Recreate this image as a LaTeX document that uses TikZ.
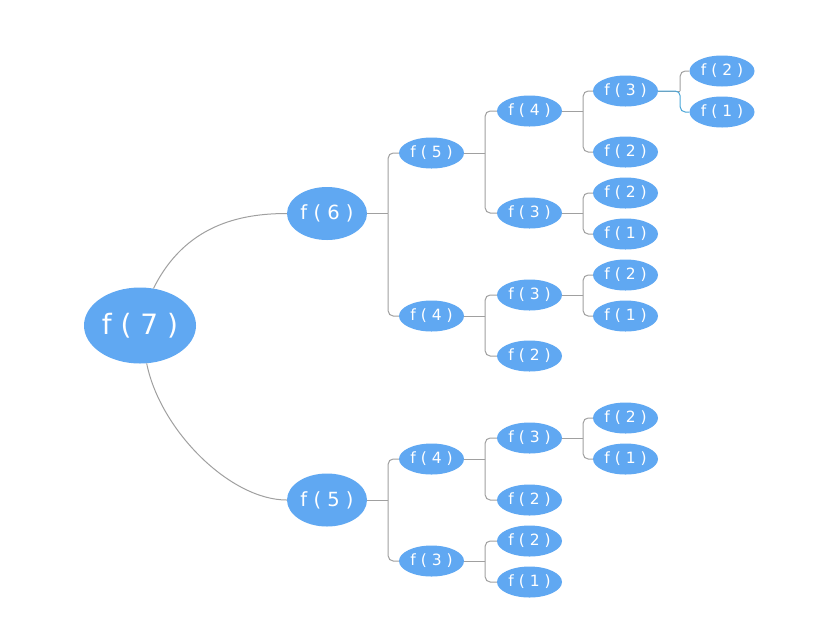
\documentclass[tikz,border=0pt]{standalone}
\usepackage{fontspec}
\setmainfont{DejaVu Sans}
\usetikzlibrary{shapes.geometric}
\definecolor{nodeblue}{RGB}{96,168,242}
\definecolor{lineg}{RGB}{160,160,160}
\definecolor{selblue}{RGB}{74,166,216}
\tikzset{
  bub/.style={ellipse,fill=nodeblue,text=white,inner sep=0pt,draw=none},
  rootn/.style={bub,minimum width=112pt,minimum height=76pt,font=\fontsize{28}{28}\selectfont},
  midn/.style={bub,minimum width=80pt,minimum height=53pt,font=\fontsize{19.5}{19.5}\selectfont},
  smalln/.style={bub,minimum width=65pt,minimum height=31pt,font=\fontsize{15.5}{15.5}\selectfont},
  conn/.style={draw=lineg,line width=1pt},
  elb/.style={conn,rounded corners=5pt},
}
\begin{document}
\begin{tikzpicture}[x=1pt,y=-1pt]
\useasboundingbox (0,0) rectangle (834,638);
\fill[white] (0,0) rectangle (834,638);
% nodes
\node[rootn] (r) at (140,325.5) {f ( 7 )};
\node[midn] (f6) at (327,213.5) {f ( 6 )};
\node[midn] (f5) at (327,500) {f ( 5 )};
% level 2
\node[smalln] (a) at (431.5,153) {f ( 5 )};
\node[smalln] (b) at (431.5,316) {f ( 4 )};
\node[smalln] (c) at (431.5,459) {f ( 4 )};
\node[smalln] (d) at (431.5,561) {f ( 3 )};
% level 3
\node[smalln] (a1) at (529.5,111) {f ( 4 )};
\node[smalln] (a2) at (529.5,213) {f ( 3 )};
\node[smalln] (b1) at (529.5,295) {f ( 3 )};
\node[smalln] (b2) at (529.5,356) {f ( 2 )};
\node[smalln] (c1) at (529.5,438) {f ( 3 )};
\node[smalln] (c2) at (529.5,500) {f ( 2 )};
\node[smalln] (d1) at (529.5,541) {f ( 2 )};
\node[smalln] (d2) at (529.5,582) {f ( 1 )};
% level 4
\node[smalln] (a11) at (625.5,91) {f ( 3 )};
\node[smalln] (a12) at (625.5,152) {f ( 2 )};
\node[smalln] (a21) at (625.5,193) {f ( 2 )};
\node[smalln] (a22) at (625.5,234) {f ( 1 )};
\node[smalln] (b11) at (625.5,275) {f ( 2 )};
\node[smalln] (b12) at (625.5,316) {f ( 1 )};
\node[smalln] (c11) at (625.5,418) {f ( 2 )};
\node[smalln] (c12) at (625.5,459) {f ( 1 )};
% level 5
\node[smalln] (a111) at (722,71) {f ( 2 )};
\node[smalln] (a112) at (722,112) {f ( 1 )};
% curves from root
\draw[conn] (r.70) .. controls (185,225) and (240,213.5) .. (f6.west);
\draw[conn] (r.-80) .. controls (160,430) and (230,500) .. (f5.west);
% elbow connectors
\foreach \p/\ca/\cb in {f6/a/b, f5/c/d, a/a1/a2, b/b1/b2, c/c1/c2, d/d1/d2, a1/a11/a12, a2/a21/a22, b1/b11/b12, c1/c11/c12}{
  \draw[conn] (\p.east) -- ++(21,0) coordinate (t\p);
  \draw[elb] (t\p) |- (\ca.west);
  \draw[elb] (t\p) |- (\cb.west);
}
\draw[conn] (a11.east) -- ++(22,0) coordinate (ta11);
\draw[elb] (ta11) |- (a111.west);
\draw[elb,draw=selblue] (a11.east) -- (ta11) |- (a112.west);
\end{tikzpicture}
\end{document}
